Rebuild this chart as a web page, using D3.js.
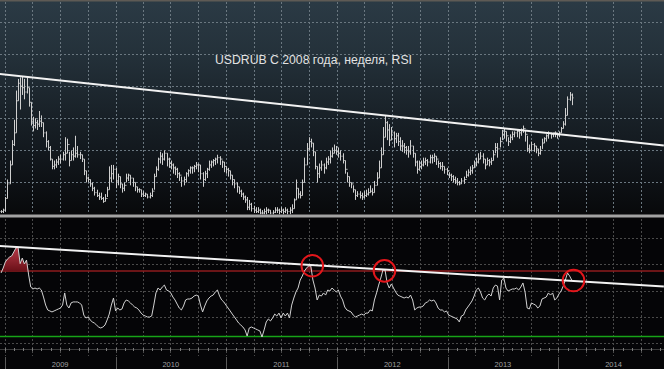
<!DOCTYPE html>
<html><head><meta charset="utf-8">
<script src="https://cdn.jsdelivr.net/npm/d3@7"></script>
<style>html,body{margin:0;padding:0;background:#000;overflow:hidden}</style>
</head><body><svg id="c" width="664" height="369"></svg>
<script>
const title = "USDRUB С 2008 года, неделя, RSI";
const firstWeek = "2008-12-19";
const closes = [
27.4,27.5,28.3,29.3,30.6,32.0,32.8,35.0,36.2,36.0,
35.9,35.6,35.9,34.9,33.6,33.3,33.5,33.4,33.6,33.5,
32.8,32.2,31.8,31.0,30.5,30.6,30.8,31.0,31.0,31.3,
31.4,32.0,30.9,31.3,31.2,31.4,31.3,31.3,31.0,30.2,
29.7,29.6,29.3,29.0,28.7,28.5,28.4,28.3,28.1,28.3,
28.9,29.7,30.0,30.3,29.5,29.8,29.3,29.0,29.2,29.7,
29.9,29.7,29.4,29.1,28.9,28.9,28.6,28.5,28.6,28.4,
28.5,28.8,29.8,30.3,31.0,31.2,31.0,31.4,31.0,30.7,
30.6,30.4,30.3,30.0,29.9,29.5,29.6,30.0,30.2,30.4,
30.4,30.5,30.6,30.6,30.0,29.6,30.0,30.3,30.6,30.8,
30.9,31.0,31.1,31.0,30.8,30.5,30.3,30.2,29.9,29.6,
29.3,29.1,28.8,28.6,28.4,28.2,27.7,27.9,27.6,27.5,
27.4,27.5,27.3,27.3,27.4,27.5,27.5,27.3,27.35,27.5,
27.5,27.4,27.5,27.4,27.5,27.4,27.5,27.6,28.2,29.0,
28.6,28.5,29.4,30.6,31.7,32.2,32.1,31.5,30.5,30.0,
30.4,30.6,30.4,30.8,31.0,31.2,31.4,31.6,31.5,31.4,
31.2,30.9,30.3,29.8,29.4,29.3,28.9,28.5,28.6,28.5,
28.4,28.5,28.6,28.7,28.8,28.7,29.2,29.7,30.4,31.3,
32.5,33.5,33.0,32.3,32.8,32.4,32.6,32.2,31.9,31.9,
31.8,31.6,31.5,31.9,31.4,30.8,30.3,30.5,30.6,30.8,
30.9,30.8,31.1,31.1,31.2,31.0,30.7,30.5,30.5,30.3,
30.2,29.9,29.8,29.6,29.5,29.4,29.3,29.5,29.6,29.9,
30.1,30.2,30.4,30.6,30.8,31.0,31.2,31.0,30.6,30.9,
30.8,30.9,31.3,31.8,31.7,32.2,32.7,32.9,32.6,32.2,
32.5,32.7,32.8,32.9,32.8,33.0,33.1,32.7,31.7,31.6,
32.0,31.9,31.7,31.4,31.6,32.1,32.4,32.6,32.8,32.7,
32.8,32.8,32.7,32.8,33.1,33.4,34.0,35.1,35.4,35.2];
const highs = [
27.5,27.6,28.4,29.6,30.9,32.3,33.7,35.7,36.5,36.6,
36.7,36.5,36.6,35.9,34.9,33.9,33.8,33.7,34.3,34.0,
33.5,32.9,32.3,31.9,31.0,30.9,31.0,31.2,31.3,31.5,
32.5,32.4,31.5,31.6,31.8,32.6,31.9,31.5,31.3,31.0,
30.2,29.8,29.6,29.4,29.1,28.9,28.7,28.7,28.4,28.6,
29.1,30.5,30.6,30.6,30.4,30.0,29.8,29.3,29.4,30.0,
30.0,29.9,29.7,29.4,29.1,29.0,28.9,28.8,28.7,28.6,
28.7,29.0,30.0,30.5,31.1,31.5,31.4,31.6,31.4,31.1,
30.9,30.7,30.5,30.4,30.1,29.8,29.8,30.1,30.3,30.5,
30.5,30.6,30.8,30.7,30.6,30.1,30.2,30.4,30.9,30.9,
31.0,31.1,31.3,31.2,30.9,30.8,30.5,30.4,30.2,29.9,
29.6,29.4,29.1,28.9,28.7,28.5,28.4,28.2,28.0,27.8,
27.7,27.7,27.6,27.5,27.6,27.7,27.6,27.5,27.5,27.7,
27.7,27.6,27.7,27.6,27.7,27.6,27.7,27.9,28.3,29.6,
29.0,28.8,29.6,31.1,32.1,32.5,32.4,32.1,31.5,30.5,
30.7,30.9,30.7,31.1,31.2,31.6,31.8,32.0,31.9,31.8,
31.6,31.4,30.9,30.1,29.8,29.4,29.2,28.9,28.8,28.8,
28.7,28.8,28.9,29.0,29.2,29.0,29.5,30.1,30.9,31.8,
33.2,34.0,33.6,33.4,33.2,32.9,32.8,32.8,32.5,32.3,
32.1,31.9,31.9,32.3,31.9,31.4,30.9,30.9,30.9,31.1,
31.1,31.0,31.3,31.3,31.4,31.2,30.9,30.8,30.8,30.5,
30.4,30.1,30.0,29.9,29.8,29.7,29.5,29.7,29.8,30.2,
30.3,30.5,30.6,30.9,31.1,31.4,31.5,31.4,31.0,31.1,
31.0,31.1,31.6,32.1,32.1,32.5,33.0,33.1,32.9,32.5,
32.7,32.9,32.9,33.0,33.0,33.1,33.3,33.0,32.6,32.0,
32.2,32.1,31.9,31.7,31.9,32.4,32.5,32.7,32.9,32.8,
32.8,32.9,32.8,32.9,33.2,33.6,34.5,35.3,35.6,35.5];
const lows = [
27.3,27.3,27.4,28.3,29.3,30.6,31.9,32.8,35.0,34.4,
35.4,35.1,35.5,34.6,33.3,32.9,33.1,33.0,33.2,33.2,
32.5,31.8,31.6,30.9,30.3,30.3,30.4,30.6,30.7,30.9,
30.9,31.4,30.5,30.9,30.9,31.1,31.1,31.0,30.8,29.9,
29.4,29.4,29.1,28.8,28.5,28.4,28.2,28.2,28.0,28.1,
28.4,28.9,29.4,29.6,29.0,29.2,29.0,28.7,28.8,29.4,
29.5,29.2,29.1,28.8,28.7,28.7,28.4,28.4,28.4,28.3,
28.3,28.4,28.9,29.8,30.2,30.7,30.6,30.9,30.5,30.4,
30.3,30.0,29.9,29.7,29.5,29.1,29.2,29.4,29.8,30.0,
30.0,30.1,30.3,30.1,29.6,29.1,29.5,29.7,30.2,30.4,
30.5,30.6,30.7,30.6,30.4,30.1,30.0,29.8,29.6,29.2,
29.0,28.7,28.6,28.4,28.2,28.0,27.5,27.5,27.4,27.3,
27.3,27.3,27.2,27.2,27.2,27.2,27.3,27.2,27.2,27.3,
27.3,27.2,27.3,27.2,27.3,27.2,27.2,27.3,27.6,28.2,
28.3,28.3,28.5,29.4,30.6,31.6,31.8,31.2,30.3,29.4,
29.7,30.2,30.0,30.3,30.6,30.7,31.1,31.4,31.3,31.1,
30.9,30.7,30.0,29.4,29.1,29.0,28.7,28.2,28.4,28.3,
28.2,28.3,28.4,28.5,28.7,28.5,28.7,29.2,29.7,30.4,
31.3,32.5,32.3,31.9,32.3,31.8,32.1,31.9,31.6,31.5,
31.4,31.3,31.1,31.3,31.1,30.5,30.0,30.2,30.3,30.5,
30.6,30.5,30.7,30.7,30.8,30.6,30.4,30.3,30.2,30.0,
29.9,29.7,29.5,29.4,29.3,29.2,29.2,29.3,29.3,29.7,
29.8,29.9,30.0,30.4,30.5,30.7,31.0,30.7,30.3,30.6,
30.5,30.6,30.9,31.4,31.1,31.8,32.3,32.4,32.2,31.9,
32.1,32.3,32.5,32.5,32.4,32.6,32.8,32.2,31.5,31.4,
31.6,31.5,31.4,31.2,31.3,31.7,32.1,32.2,32.4,32.4,
32.5,32.5,32.4,32.5,32.8,33.1,33.3,34.0,35.0,34.7];
const rsi = [
68.8,71.8,75.5,77.3,78.5,79.2,81.6,84.0,84.6,74.5,
77.9,74.3,76.7,67.6,60.2,59.0,59.6,59.0,59.6,58.4,
54.1,49.2,46.2,45.6,45.0,45.6,46.2,46.8,47.4,49.2,
56.6,49.2,47.4,50.5,51.1,51.1,51.1,50.5,49.2,43.1,
41.3,41.9,40.1,38.9,38.2,37.0,35.8,35.2,35.8,37.0,
40.1,43.7,49.2,53.5,45.6,47.4,46.2,46.8,50.5,52.3,
51.7,50.5,49.2,48.0,47.4,46.2,44.3,43.1,42.5,41.9,
41.9,42.5,49.2,56.6,59.6,58.4,60.2,61.4,58.4,57.8,
56.6,54.1,52.3,49.8,47.4,46.2,48.6,52.3,52.9,52.9,
53.5,54.7,55.3,54.7,49.2,45.0,48.6,51.7,53.5,54.7,
55.3,57.2,58.4,54.7,52.3,51.1,49.2,47.4,45.6,43.7,
41.9,40.1,38.2,37.0,35.8,34.0,30.3,35.2,35.8,35.2,
34.6,34.0,33.4,29.7,34.0,38.9,40.7,39.5,41.3,43.7,
42.5,44.3,41.3,44.3,42.5,44.3,41.3,49.2,53.5,57.2,
59.6,64.5,66.9,70.0,71.8,73.1,73.1,64.5,59.6,52.3,
55.3,54.7,56.6,55.3,58.4,57.8,59.6,58.4,57.2,58.4,
54.7,52.3,48.0,46.2,45.6,45.0,43.1,41.9,42.5,43.1,
43.7,43.1,44.3,44.3,46.2,45.6,52.3,56.6,61.4,65.7,
70.6,70.6,62.7,59.6,62.1,59.6,57.2,55.3,54.7,54.1,
53.5,54.1,53.5,55.3,52.3,46.2,47.4,48.0,48.0,48.6,
50.5,51.1,52.3,51.7,52.3,50.5,47.4,46.2,46.2,45.0,
45.6,43.1,42.5,41.9,41.3,40.7,38.9,42.5,43.1,46.2,
48.0,49.8,51.7,54.7,58.4,59.6,57.2,53.5,52.3,54.7,
56.0,54.7,59.6,61.4,60.8,52.3,64.5,65.7,59.6,57.8,
58.4,59.0,59.0,59.6,58.4,60.2,62.7,57.2,47.4,46.8,
50.5,49.8,49.2,47.4,48.6,52.9,53.5,54.1,56.6,55.3,
56.6,52.3,53.5,56.0,57.8,60.8,64.5,68.8,67.0,64.5];
const years = [2009, 2010, 2011, 2012, 2013, 2014];
const overbought = 70, oversold = 30;
const rsiGridValues = [90, 74, 58, 42, 26];
const priceTrendDates = ["2008-12-15", "2014-12-15"], priceTrendValues = [36.84, 31.93];
const rsiTrendDates = ["2008-12-15", "2014-12-15"], rsiTrendValues = [85.3, 60.5];
const circleDates = ["2011-10-12", "2012-06-06", "2014-02-20"], circleValues = [73.2, 70.1, 64.2];

const W = 664, H = 369;
const parse = d3.timeParse("%Y-%m-%d");
const svg = d3.select("#c");
const x = d3.scaleTime().domain([new Date(2009,0,1), new Date(2015,0,1)]).range([5, 669]);
const yP = d3.scaleLinear().domain([27.2, 36.7]).range([214.5, 76]);
const yR = d3.scaleLinear().domain([oversold, overbought]).range([336.5, 271]);
const start = parse(firstWeek);
const dates = closes.map((_, i) => d3.timeDay.offset(start, 7 * i));
const px = d => Math.round(x(d)) + 0.5;

const defs = svg.append("defs");
const g1 = defs.append("linearGradient").attr("id", "bgTop").attr("x1",0).attr("y1",0).attr("x2",0).attr("y2",1);
[[0,"#2b3a45"],[0.25,"#24313a"],[0.5,"#1a232a"],[0.75,"#11161b"],[1,"#08090b"]].forEach(s=>g1.append("stop").attr("offset",s[0]).attr("stop-color",s[1]));
const g2 = defs.append("linearGradient").attr("id", "redFill").attr("x1",0).attr("y1",0).attr("x2",0).attr("y2",1);
[[0,"#b83a48"],[1,"#6a1018"]].forEach(s=>g2.append("stop").attr("offset",s[0]).attr("stop-color",s[1]));
defs.append("clipPath").attr("id","clipTop").append("rect").attr("x",0).attr("y",0).attr("width",W).attr("height",214.5);
defs.append("clipPath").attr("id","clipBot").append("rect").attr("x",0).attr("y",218).attr("width",W).attr("height",134);

// backgrounds
svg.append("rect").attr("width", W).attr("height", H).attr("fill", "#050507");
svg.append("rect").attr("x",0).attr("y",0).attr("width",W).attr("height",214.5).attr("fill","url(#bgTop)");
svg.append("rect").attr("x",0).attr("y",0).attr("width",W).attr("height",1.5).attr("fill","#5e5a55");

// vertical quarter grid
const quarters = d3.timeMonth.every(3).range(new Date(2008,9,1), new Date(2015,3,1)).filter(d => x(d) >= 0 && x(d) <= W);
svg.append("g").selectAll("line").data(quarters).join("line")
  .attr("x1", px).attr("x2", px).attr("y1", 2).attr("y2", 214)
  .attr("stroke", "#6a7780").attr("stroke-width", 1).attr("stroke-dasharray", "2,2");
svg.append("g").selectAll("line").data(quarters).join("line")
  .attr("x1", px).attr("x2", px).attr("y1", 219).attr("y2", 356)
  .attr("stroke", "#4a4a4a").attr("stroke-width", 1).attr("stroke-dasharray", "2,2");

// horizontal grid, top panel
svg.append("g").selectAll("line").data(d3.range(22, 200, 32)).join("line")
  .attr("x1", 0).attr("x2", W).attr("y1", d => d + 0.5).attr("y2", d => d + 0.5)
  .attr("stroke", "#6a7780").attr("stroke-width", 1).attr("stroke-dasharray", "2,2");
// horizontal grid, RSI panel
svg.append("g").selectAll("line").data(rsiGridValues).join("line")
  .attr("x1", 0).attr("x2", W).attr("y1", d => Math.round(yR(d)) + 0.5).attr("y2", d => Math.round(yR(d)) + 0.5)
  .attr("stroke", "#4a4a4a").attr("stroke-width", 1).attr("stroke-dasharray", "2,2");

// price OHLC bars
let p = "";
dates.forEach((d, i) => {
  const xx = px(d);
  const o = i > 0 ? closes[i - 1] : closes[i];
  p += `M${xx},${yP(highs[i])}V${yP(lows[i])}M${xx - 1},${yP(o)}H${xx}M${xx},${yP(closes[i])}H${xx + 1}`;
});
svg.append("path").attr("d", p).attr("clip-path","url(#clipTop)")
  .attr("fill", "none").attr("stroke", "#cfcfcf").attr("stroke-width", 1);

// price trendline
svg.append("line")
  .attr("x1", x(parse(priceTrendDates[0]))).attr("y1", yP(priceTrendValues[0]))
  .attr("x2", x(parse(priceTrendDates[1]))).attr("y2", yP(priceTrendValues[1]))
  .attr("stroke", "#f2f2f2").attr("stroke-width", 2);

// separator band
svg.append("rect").attr("x",0).attr("y",214.5).attr("width",W).attr("height",3).attr("fill","#a3a3a3");

// title
svg.append("text").attr("x", 313.5).attr("y", 64).attr("text-anchor","middle")
  .attr("font-family","'Liberation Sans', Arial, sans-serif").attr("font-size", 12)
  .attr("textLength", 197).attr("lengthAdjust", "spacingAndGlyphs")
  .attr("fill","#e2e2e2").text(title);

// RSI levels
svg.append("line").attr("x1",0).attr("x2",W).attr("y1",yR(overbought)).attr("y2",yR(overbought))
  .attr("stroke","#8e1b1e").attr("stroke-width",1.6);
svg.append("line").attr("x1",0).attr("x2",W).attr("y1",yR(oversold)).attr("y2",yR(oversold))
  .attr("stroke","#17a317").attr("stroke-width",1.6);

// overbought fill
const area = d3.area().x((d,i) => x(dates[i])).y0(yR(overbought)).y1(d => yR(Math.max(d, overbought)));
svg.append("path").datum(rsi).attr("d", area).attr("fill","url(#redFill)").attr("clip-path","url(#clipBot)");

// RSI line
const line = d3.line().x((d,i) => x(dates[i])).y(d => yR(d));
svg.append("path").datum(rsi).attr("d", line).attr("fill","none")
  .attr("stroke","#d2d2d2").attr("stroke-width",1).attr("clip-path","url(#clipBot)");

// RSI trendline
svg.append("line")
  .attr("x1", x(parse(rsiTrendDates[0]))).attr("y1", yR(rsiTrendValues[0]))
  .attr("x2", x(parse(rsiTrendDates[1]))).attr("y2", yR(rsiTrendValues[1]))
  .attr("stroke", "#f2f2f2").attr("stroke-width", 2);

// circles
svg.append("g").selectAll("circle").data(circleDates).join("circle")
  .attr("cx", d => x(parse(d))).attr("cy", (d,i) => yR(circleValues[i])).attr("r", 10.8)
  .attr("fill","none").attr("stroke","#e3161b").attr("stroke-width",2);

// bottom axis row
svg.append("line").attr("x1",0).attr("x2",W).attr("y1",349.5).attr("y2",349.5)
  .attr("stroke","#3a3a3a").attr("stroke-width",1);
const months = d3.timeMonth.range(new Date(2008,11,1), new Date(2015,0,1)).filter(d => x(d) >= 0 && x(d) <= W);
svg.append("g").selectAll("line").data(months).join("line")
  .attr("x1", px).attr("x2", px).attr("y1", 348).attr("y2", 351)
  .attr("stroke","#7a7a7a").attr("stroke-width",1);
svg.append("g").selectAll("line").data(years.concat([2015])).join("line")
  .attr("x1", d => px(new Date(d,0,1))).attr("x2", d => px(new Date(d,0,1)))
  .attr("y1", 357).attr("y2", H).attr("stroke","#5a5a5a").attr("stroke-width",1);
svg.append("g").selectAll("text").data(years).join("text")
  .attr("x", d => x(new Date(d,6,2))).attr("y", 367).attr("text-anchor","middle")
  .attr("font-family","'Liberation Sans', Arial, sans-serif").attr("font-size",7.5)
  .attr("fill","#a0a0a0").text(d => d);
</script></body></html>
